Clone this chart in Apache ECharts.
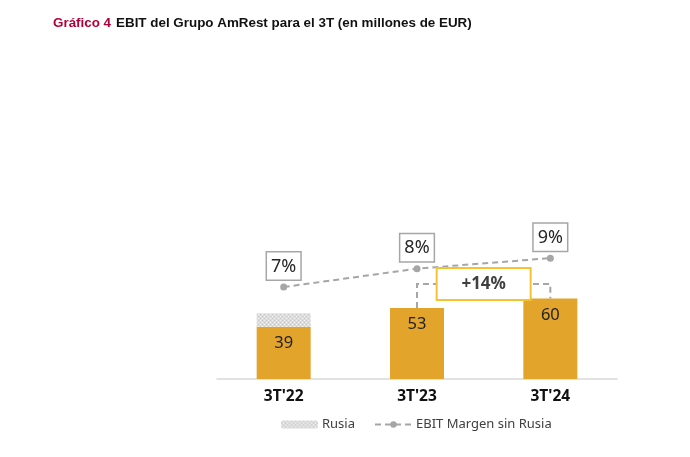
<!DOCTYPE html>
<html><head><meta charset="utf-8">
<script src="https://cdn.jsdelivr.net/npm/echarts@6/dist/echarts.min.js"></script>
<style>html,body{margin:0;padding:0;background:#fff}#c{width:690px;height:457px}</style>
</head><body><div id="c"></div>
<script>
const categories = ["3T'22", "3T'23", "3T'24"];
const ebitSinRusia = [39, 53, 60];
const rusia = [10, 0, 0];
const margenSinRusia = [7.0, 8.4, 9.2];
const growthLabel = '+14%';

const pc = document.createElement('canvas');
pc.width = 4; pc.height = 4;
const g = pc.getContext('2d');
g.fillStyle = '#dcdcdc'; g.fillRect(0,0,4,4);
g.fillStyle = '#f4f4f4'; g.fillRect(0,0,1,1); g.fillRect(2,2,1,1);
g.fillStyle = '#c8c8c8'; g.fillRect(2,0,1,1); g.fillRect(0,2,1,1);

const chart = echarts.init(document.getElementById('c'));
const font = '"Noto Sans", "Open Sans", sans-serif';
chart.setOption({
  animation: false,
  title: {
    left: 53, top: 14, padding: 0,
    text: '{a|Gráfico 4} {b|EBIT del Grupo AmRest para el 3T (en millones de EUR)}',
    textStyle: { rich: {
      a: { fontFamily: 'Liberation Sans, Arial', fontWeight: 'bold', fontSize: 13.4, color: '#b0003a' },
      b: { fontFamily: 'Liberation Sans, Arial', fontWeight: 'bold', fontSize: 13.4, color: '#111' }
    } }
  },
  grid: { left: 217, right: 73, top: 245, bottom: 78 },
  xAxis: {
    type: 'category', data: categories,
    axisLine: { lineStyle: { color: '#d9d9d9', width: 1.5 } },
    axisTick: { show: false },
    axisLabel: { fontFamily: font, fontWeight: 'bold', fontSize: 15.5, color: '#111', margin: 10 }
  },
  yAxis: [
    { type: 'value', min: 0, max: 100, show: false },
    { type: 'value', min: 0, max: 10.2, show: false }
  ],
  legend: {
    left: 281, top: 418, padding: 0, itemGap: 19, itemWidth: 37, itemHeight: 8,
    data: ['Rusia', 'EBIT Margen sin Rusia'],
    textStyle: { fontFamily: font, fontSize: 13, color: '#404040', padding: [0, 0, 0, -1] }
  },
  series: [
    { name: 'EBIT', type: 'bar', stack: 's', data: ebitSinRusia, barWidth: 54,
      itemStyle: { color: '#e2a42b' },
      label: { show: true, position: 'insideTop', distance: 8, fontFamily: font, fontSize: 16.5, color: '#222' } },
    { name: 'Rusia', type: 'bar', stack: 's', data: rusia, barWidth: 54,
      itemStyle: { color: { image: pc, repeat: 'repeat' } } },
    { name: 'EBIT Margen sin Rusia', type: 'line', yAxisIndex: 1, data: margenSinRusia,
      symbol: 'circle', symbolSize: 7,
      itemStyle: { color: '#a6a6a6' },
      lineStyle: { color: '#a6a6a6', width: 2, type: [6, 4] },
      label: { show: true, position: 'top', distance: 4,
        formatter: p => Math.round(p.value) + '%',
        fontFamily: font, fontSize: 18, color: '#262626', backgroundColor: '#fff',
        borderColor: '#a6a6a6', borderWidth: 1.5, padding: [5, 4, 4, 4] } }
  ]
});

const pA = chart.convertToPixel({ seriesIndex: 0 }, [1, ebitSinRusia[1]]);
const pB = chart.convertToPixel({ seriesIndex: 0 }, [2, ebitSinRusia[2]]);
const yB = pA[1] - 24;
const mx = (pA[0] + pB[0]) / 2;
chart.setOption({
  graphic: [
    { type: 'polyline', z: 10, shape: { points: [[pA[0], pA[1]], [pA[0], yB], [pB[0], yB], [pB[0], pB[1]]] },
      style: { stroke: '#a6a6a6', lineWidth: 2, lineDash: [6, 4], fill: null } },
    { type: 'rect', z: 11, shape: { x: mx - 47, y: yB - 16, width: 94, height: 32 },
      style: { fill: '#fff', stroke: '#f5c332', lineWidth: 2 } },
    { type: 'text', z: 12, x: mx, y: yB,
      style: { text: growthLabel, font: 'bold 17px "Noto Sans", sans-serif', fill: '#404040', align: 'center', verticalAlign: 'middle' } }
  ]
});
</script></body></html>
